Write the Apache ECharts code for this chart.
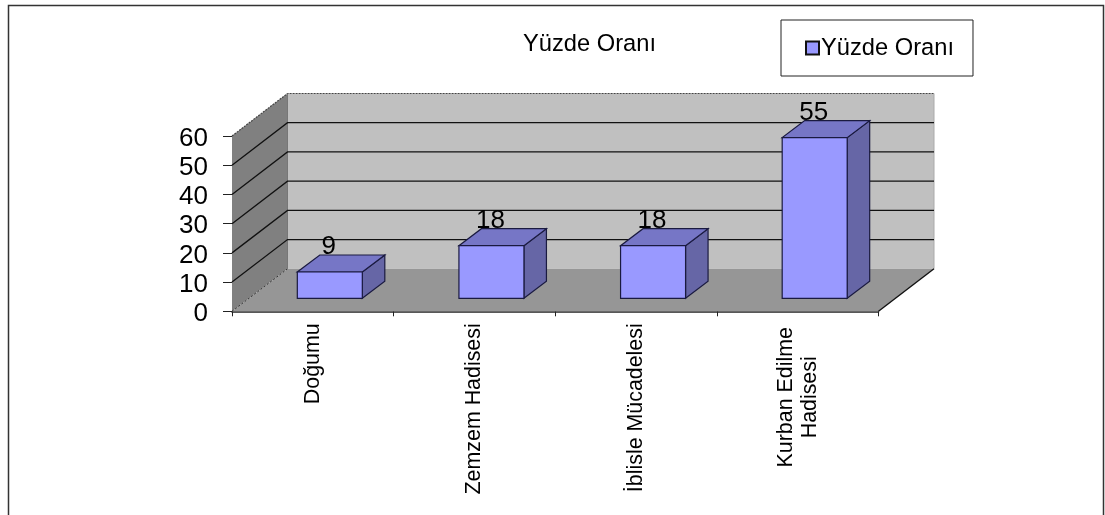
<!DOCTYPE html>
<html><head><meta charset="utf-8">
<style>html,body{margin:0;padding:0;background:#fff}#c{width:1105px;height:515px}</style>
<script src="https://cdn.jsdelivr.net/npm/echarts@6/dist/echarts.min.js"></script>
</head><body><div id="c"></div>
<script>
const categories = ['Doğumu', 'Zemzem Hadisesi', 'İblisle Mücadelesi', 'Kurban Edilme\nHadisesi'];
const percentValues = [9, 18, 18, 55];
const gridTicks = [10, 20, 30, 40, 50, 60];
const seriesName = 'Yüzde Oranı';
const FONT = '"Liberation Sans", Arial, sans-serif';
const DX = 55.5, DY = -42.5;      // wall depth
const BAR_DX = 22.5, BAR_DY = -17; // bar depth
const BAR_SHIFT_X = 17, BAR_SHIFT_Y = -13; // bar position on the floor
const BAR_W = 65;

const chart = echarts.init(document.getElementById('c'), null, {renderer: 'canvas'});
const poly = (pts, fill, stroke, w, dash) => ({
  type: 'polygon', shape: {points: pts},
  style: {fill, stroke: stroke || 'none', lineWidth: w || 0, lineDash: dash || null}
});
const line = (pts, stroke, w, dash) => ({
  type: 'polyline', shape: {points: pts},
  style: {fill: 'none', stroke, lineWidth: w, lineDash: dash || null}
});
chart.setOption({
  animation: false,
  backgroundColor: '#fff',
  textStyle: {fontFamily: FONT},
  title: {
    text: seriesName, left: 518, top: 27,
    textStyle: {fontFamily: FONT, fontSize: 23.7, fontWeight: 'normal', color: '#000'}
  },
  legend: {
    data: [seriesName], left: 781, top: 20, orient: 'horizontal',
    backgroundColor: '#fff', borderColor: '#222', borderWidth: 1,
    padding: [16, 19, 16, 24], itemWidth: 13, itemHeight: 13, itemGap: 0,
    icon: 'rect', itemStyle: {borderColor: '#111', borderWidth: 2, color: '#9999ff'},
    textStyle: {fontFamily: FONT, fontSize: 23.7, color: '#000', padding: [0, 0, 0, -3]}
  },
  grid: {left: 232, top: 136, width: 646.5, height: 175.3},
  xAxis: {
    type: 'category', data: categories,
    axisLine: {show: true, lineStyle: {color: '#222', width: 1.5}},
    axisTick: {show: true, length: 5, lineStyle: {color: '#222'}},
    axisLabel: {
      interval: 0, rotate: 90, margin: 12, fontFamily: FONT, fontSize: 21.4, color: '#000',
      lineHeight: 24,
      formatter: v => v.includes('\n') ? v.split('\n').map(s => '{m|' + s + '}').join('\n') : v,
      rich: {m: {width: 148, align: 'center', fontFamily: FONT, fontSize: 21.4, lineHeight: 24, color: '#000'}}
    }
  },
  yAxis: {
    type: 'value', min: 0, max: 60, interval: 10,
    axisLine: {show: true, lineStyle: {color: '#222', width: 1}},
    axisTick: {show: true, length: 9, lineStyle: {color: '#222'}},
    axisLabel: {
      margin: 24, fontFamily: FONT, fontSize: 26, color: '#000',
      formatter: v => '{n|' + v + '}',
      rich: {n: {fontFamily: FONT, fontSize: 26, color: '#000', padding: [5, 0, 0, 0]}}
    },
    splitLine: {show: false}
  },
  graphic: [{
    type: 'polyline', z: -10, silent: true,
    shape: {points: [[8.5, 520], [8.5, 5.5], [1103.5, 5.5], [1103.5, 520]]},
    style: {fill: 'none', stroke: '#333', lineWidth: 1.5}
  }],
  series: [
    {
      type: 'custom', name: 'walls', silent: true, z: 1, clip: false,
      data: [[0, 0]], encode: {x: 0, y: 1},
      renderItem(params, api) {
        const g = params.coordSys;
        const o = api.coord([0, 0]);
        const top = api.coord([0, 60]);
        const xL = g.x, xR = g.x + g.width, y0 = o[1], y1 = top[1];
        return {type: 'group', children: [
          poly([[xL, y0], [xL + DX, y0 + DY], [xL + DX, y1 + DY], [xL, y1]], '#808080'),
          poly([[xL + DX, y0 + DY], [xR + DX, y0 + DY], [xR + DX, y1 + DY], [xL + DX, y1 + DY]], '#c0c0c0'),
          poly([[xL, y0], [xR, y0], [xR + DX, y0 + DY], [xL + DX, y0 + DY]], '#969696'),
          line([[xL, y1], [xL + DX, y1 + DY], [xR + DX, y1 + DY]], '#444', 1.2, [2, 1]),
          line([[xR + DX, y1 + DY], [xR + DX, y0 + DY]], '#aaa', 1),
          line([[xL, y0], [xL + DX, y0 + DY]], '#333', 1, [2, 2]),
          line([[xL + DX, y0 + DY], [xL + DX, y1 + DY]], '#777', 1),
          line([[xR, y0], [xR + DX, y0 + DY]], '#111', 1.4)
        ]};
      }
    },
    {
      type: 'custom', name: 'gridlines', silent: true, z: 2, clip: false,
      data: gridTicks.map(v => [0, v]), encode: {x: 0, y: 1},
      renderItem(params, api) {
        const g = params.coordSys;
        const y = api.coord([0, api.value(1)])[1];
        const xL = g.x, xR = g.x + g.width;
        const col = api.value(1) === 60 ? 'rgba(0,0,0,0)' : '#111';
        return line([[xL, y], [xL + DX, y + DY], [xR + DX, y + DY]], col, 1.3);
      }
    },
    {
      type: 'custom', name: seriesName, z: 3, clip: false,
      itemStyle: {color: '#9999ff'},
      data: percentValues.map((v, i) => [i, v]), encode: {x: 0, y: 1},
      renderItem(params, api) {
        const i = api.value(0), v = api.value(1);
        const base = api.coord([i, 0]), top = api.coord([i, v]);
        const x0 = base[0] - BAR_W / 2 + BAR_SHIFT_X, x1 = x0 + BAR_W;
        const yb = base[1] + BAR_SHIFT_Y, yt = top[1] + BAR_SHIFT_Y;
        const edge = '#1a1a40';
        return {type: 'group', children: [
          poly([[x1, yb], [x1 + BAR_DX, yb + BAR_DY], [x1 + BAR_DX, yt + BAR_DY], [x1, yt]], '#6666a6', edge, 1.2),
          poly([[x0, yt], [x1, yt], [x1 + BAR_DX, yt + BAR_DY], [x0 + BAR_DX, yt + BAR_DY]], '#7676c6', edge, 1.2),
          poly([[x0, yb], [x1, yb], [x1, yt], [x0, yt]], '#9999ff', edge, 1.2),
          {type: 'text', z2: 10, style: {
            text: String(v), x: (x0 + x1) / 2 - 1, y: yt - 25, align: 'center', verticalAlign: 'middle',
            font: '26px ' + FONT, fill: '#000'
          }}
        ]};
      }
    }
  ]
});
</script></body></html>
